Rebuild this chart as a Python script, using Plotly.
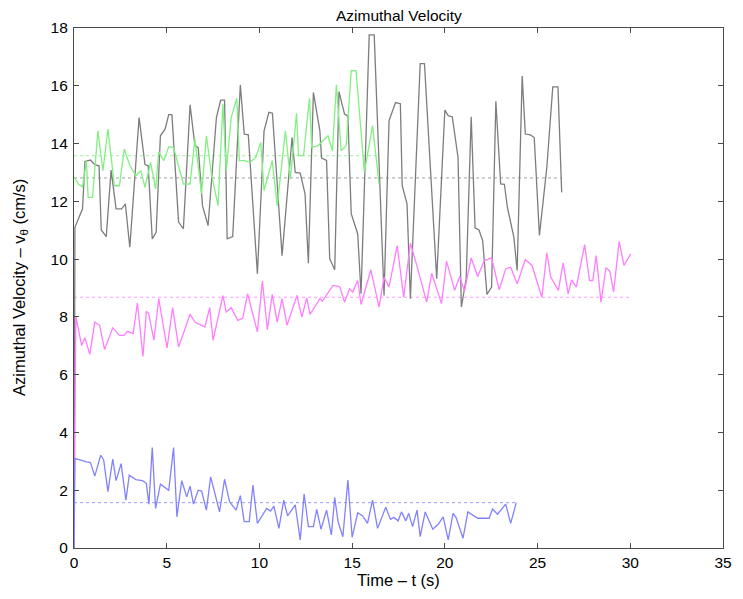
import plotly.graph_objects as go

# ---- data ----
gray_t = [0, 0.05, 0.46, 0.59, 0.89, 1.12, 1.35, 1.47, 1.74, 2.0,
          2.27, 2.57, 2.77, 3.01, 3.51, 3.83, 4.0, 4.22, 4.43, 4.66,
          4.91, 5.11, 5.28, 5.64, 5.9, 6.26, 6.52, 6.7, 6.93, 7.23,
          7.68, 7.91, 8.12, 8.26, 8.56, 8.97, 9.18, 9.4, 9.89, 10.25,
          10.51, 10.7, 11.22, 11.76, 11.93, 12.2, 12.46, 12.64, 12.91, 13.26,
          13.35, 13.62, 13.79, 14.06, 14.29, 14.59, 14.77, 14.95, 15.3, 15.48,
          15.92, 16.19, 16.72, 16.99, 17.34, 17.6, 17.7, 17.96, 18.14, 18.67,
          18.9, 19.56, 20.0, 20.19, 20.4, 20.71, 20.89, 21.15, 21.42, 21.63,
          21.84, 22.04, 22.27, 22.52, 22.75, 23.01, 23.21, 23.37, 23.72, 23.9,
          24.17, 24.34, 24.61, 24.82, 25.1, 25.5, 25.82, 26.1, 26.3]
gray_v = [0, 11.1, 11.74, 13.38, 13.43, 13.27, 13.23, 11.01, 10.78, 13.08,
          11.74, 11.74, 11.91, 10.41, 14.9, 13.27, 13.23, 10.7, 10.93, 14.27,
          14.5, 15.0, 15.0, 11.28, 11.05, 15.34, 13.93, 13.86, 11.85, 11.16,
          14.9, 15.5, 15.5, 10.7, 10.78, 16.03, 14.33, 14.3, 9.49, 14.44,
          15.08, 15.05, 10.12, 14.21, 13.0, 12.98, 12.26, 9.86, 15.77, 14.44,
          13.5, 13.42, 10.01, 9.63, 15.8, 15.02, 14.95, 11.57, 10.87, 8.8,
          17.76, 17.76, 8.74, 14.79, 15.42, 15.38, 12.54, 11.91, 8.63, 16.77,
          16.77, 9.32, 15.16, 14.96, 14.93, 13.52, 8.34, 9.32, 14.93, 11.08,
          11.01, 10.64, 8.78, 9.03, 15.46, 12.6, 12.59, 11.8, 10.76, 9.61,
          16.34, 14.33, 14.3, 14.21, 10.82, 13.18, 15.96, 15.96, 12.31]
gray_mean = 12.81

green_t = [0.02, 0.23, 0.46, 0.67, 0.76, 1.0, 1.29, 1.56, 1.83, 2.18,
           2.45, 2.71, 2.98, 3.33, 3.6, 3.83, 4.13, 4.4, 4.57, 4.84,
           5.11, 5.37, 5.9, 6.26, 6.52, 6.88, 7.14, 7.41, 7.77, 8.03,
           8.21, 8.48, 8.78, 8.92, 9.18, 9.5, 9.8, 10.07, 10.25, 10.51,
           10.69, 10.96, 11.4, 11.67, 12.0, 12.11, 12.38, 12.7, 12.82, 13.17,
           13.7, 13.94, 14.15, 14.41, 14.68, 14.95, 15.21, 15.66, 16.1, 16.45]
green_v = [12.83, 12.6, 12.51, 13.41, 12.14, 12.14, 14.44, 13.06, 14.5, 12.54,
           12.54, 13.81, 13.29, 12.89, 13.06, 12.48, 13.35, 12.43, 13.72, 13.41,
           13.89, 13.86, 12.6, 12.6, 14.16, 12.26, 14.27, 12.95, 11.85, 15.37,
           13.06, 14.9, 15.57, 13.41, 13.41, 13.35, 13.52, 14.04, 12.37, 12.95,
           13.41, 11.85, 14.44, 12.77, 15.05, 13.58, 13.58, 15.57, 13.87, 13.93,
           14.27, 13.75, 16.03, 13.75, 13.93, 16.52, 16.52, 13.0, 14.62, 12.6]
green_mean = 13.58

magenta_t = [0, 0.1, 0.41, 0.59, 0.85, 1.12, 1.38, 1.65, 2.09, 2.45,
             2.7, 2.89, 3.19, 3.42, 3.72, 3.90, 4.02, 4.31, 4.57, 5.02,
             5.32, 5.64, 6.26, 6.52, 7.06, 7.32, 7.5, 8.03, 8.21, 8.48,
             8.83, 9.1, 9.36, 9.89, 10.16, 10.43, 10.69, 10.96, 11.22, 11.49,
             12.02, 12.29, 12.55, 12.73, 13.26, 13.4, 13.97, 14.33, 14.59, 14.86,
             15.03, 15.3, 15.48, 16.01, 16.45, 16.72, 16.99, 17.43, 17.78, 18.14,
             18.5, 19.02, 19.29, 19.82, 20.09, 20.53, 20.8, 21.06, 21.42, 21.77,
             22.13, 22.52, 22.93, 23.28, 23.55, 23.9, 24.34, 24.7, 25.23, 25.5,
             25.71, 26.12, 26.38, 26.65, 26.83, 27.09, 27.54, 27.8, 27.98, 28.16,
             28.42, 28.69, 28.9, 29.1, 29.4, 29.66, 30.02]
magenta_v = [0, 8.02, 7.01, 7.28, 6.70, 7.82, 7.71, 6.87, 7.62, 7.36,
             7.36, 7.5, 7.42, 8.48, 6.63, 8.19, 8.13, 7.19, 8.63, 6.93,
             8.32, 6.96, 8.09, 7.82, 7.65, 8.32, 7.19, 8.74, 8.17, 8.32,
             7.88, 7.95, 8.8, 7.48, 9.24, 7.56, 8.78, 7.82, 8.63, 7.71,
             8.74, 7.99, 8.66, 8.09, 8.63, 8.55, 9.09, 9.05, 8.51, 8.97,
             8.86, 9.26, 8.43, 9.63, 8.34, 9.37, 9.03, 10.47, 8.68, 10.55,
             9.75, 8.51, 9.51, 8.46, 9.93, 8.92, 9.4, 8.89, 10.04, 9.4,
             9.95, 10.04, 8.94, 9.66, 9.72, 9.15, 9.98, 9.78, 8.68, 10.22,
             9.38, 8.92, 9.86, 8.8, 9.28, 9.03, 10.5, 9.26, 9.26, 10.12,
             8.51, 9.7, 9.58, 8.86, 10.61, 9.78, 10.18]
magenta_mean = 8.68

blue_t = [0, 0.05, 0.67, 0.89, 1.12, 1.44, 1.6, 1.83, 2.09, 2.27,
          2.54, 2.80, 2.98, 3.33, 3.69, 3.90, 4.04, 4.22, 4.40, 4.66,
          5.11, 5.37, 5.55, 5.81, 6.08, 6.26, 6.44, 6.70, 6.88, 7.14,
          7.37, 7.85, 8.12, 8.39, 8.74, 8.97, 9.18, 9.45, 9.65, 9.89,
          10.39, 10.60, 10.78, 11.05, 11.31, 11.52, 11.93, 12.2, 12.41, 12.64,
          12.91, 13.09, 13.32, 13.62, 13.88, 14.06, 14.24, 14.5, 14.77, 15.0,
          15.3, 15.57, 15.83, 16.1, 16.37, 16.81, 17.07, 17.25, 17.48, 17.66,
          17.9, 18.05, 18.26, 18.5, 18.67, 18.94, 19.35, 19.65, 19.91, 20.18,
          20.44, 20.6, 20.98, 21.24, 21.77, 22.39, 22.57, 22.84, 23.28, 23.55,
          23.85]
blue_v = [0, 3.10, 2.98, 2.96, 2.49, 3.21, 3.05, 1.95, 3.08, 2.33,
          2.92, 1.66, 2.52, 2.37, 2.33, 2.24, 1.52, 3.48, 1.37, 2.21,
          2.0, 3.48, 1.08, 2.33, 1.77, 2.14, 1.52, 2.0, 1.97, 1.31,
          2.46, 1.25, 2.38, 1.6, 1.31, 1.81, 0.91, 0.91, 2.18, 0.85,
          1.37, 1.28, 1.45, 0.68, 1.66, 1.11, 1.49, 0.28, 1.87, 0.74,
          0.74, 1.34, 0.65, 1.31, 0.45, 1.75, 0.91, 0.39, 2.35, 0.37,
          1.22, 1.11, 0.85, 1.66, 0.68, 1.41, 0.99, 1.06, 0.94, 1.25,
          0.94, 1.2, 0.74, 1.31, 0.39, 1.25, 0.65, 0.83, 1.08, 0.28,
          1.2, 1.06, 0.34, 1.25, 1.03, 1.03, 1.35, 1.17, 1.52, 0.85,
          1.57]
blue_mean = 1.57

x_ticks = [0, 5, 10, 15, 20, 25, 30, 35]
y_ticks = [0, 2, 4, 6, 8, 10, 12, 14, 16, 18]

FONT = "Liberation Sans, Arial, Helvetica, sans-serif"

series = [
    (gray_t, gray_v, gray_mean, "rgb(125,125,125)", "rgb(160,160,160)"),
    (green_t, green_v, green_mean, "rgb(130,240,130)", "rgb(160,240,160)"),
    (magenta_t, magenta_v, magenta_mean, "rgb(255,125,255)", "rgb(255,155,255)"),
    (blue_t, blue_v, blue_mean, "rgb(130,130,255)", "rgb(155,155,255)"),
]

fig = go.Figure()
for t, v, m, col, mcol in series:
    fig.add_trace(go.Scatter(x=[0, t[-1]], y=[m, m], mode="lines",
                             line=dict(color=mcol, width=1, dash="dot"),
                             hoverinfo="skip", showlegend=False))
for t, v, m, col, mcol in series:
    fig.add_trace(go.Scatter(x=t, y=v, mode="lines",
                             line=dict(color=col, width=1.3),
                             showlegend=False))

axis_common = dict(showgrid=False, zeroline=False, showline=True,
                   linecolor="#4a4a4a", linewidth=1.2, mirror="ticks",
                   ticks="inside", ticklen=5, tickcolor="#4a4a4a",
                   tickfont=dict(family=FONT, size=15.5, color="black"))

# page body adds an 8px offset, so the figure is sized to fit the window
fig.update_layout(
    width=735, height=591,
    margin=dict(l=66, r=11, t=19, b=51),
    plot_bgcolor="white", paper_bgcolor="white",
    xaxis=dict(range=[0, 35], tickvals=x_ticks, **axis_common),
    yaxis=dict(range=[0, 18], tickvals=y_ticks, ticklabelstandoff=2, **axis_common),
    font=dict(family=FONT, size=15, color="black"),
)

fig.add_annotation(text="Azimuthal Velocity", xref="paper", yref="paper",
                   x=0.5, y=1, yshift=2, xanchor="center", yanchor="bottom",
                   showarrow=False, font=dict(family=FONT, size=15.5, color="black"))
fig.add_annotation(text="Time \u2013 t (s)", xref="paper", yref="paper",
                   x=0.5, y=0, yshift=-32, xanchor="center", yanchor="middle",
                   showarrow=False, font=dict(family=FONT, size=16.5, color="black"))
fig.add_annotation(text="Azimuthal Velocity \u2013 v<sub>\u03b8</sub> (cm/s)",
                   xref="paper", yref="paper", x=0, y=0.5, xshift=-54,
                   xanchor="center", yanchor="middle",
                   textangle=-90, showarrow=False,
                   font=dict(family=FONT, size=16.5, color="black"))

fig.write_html("out.html")
